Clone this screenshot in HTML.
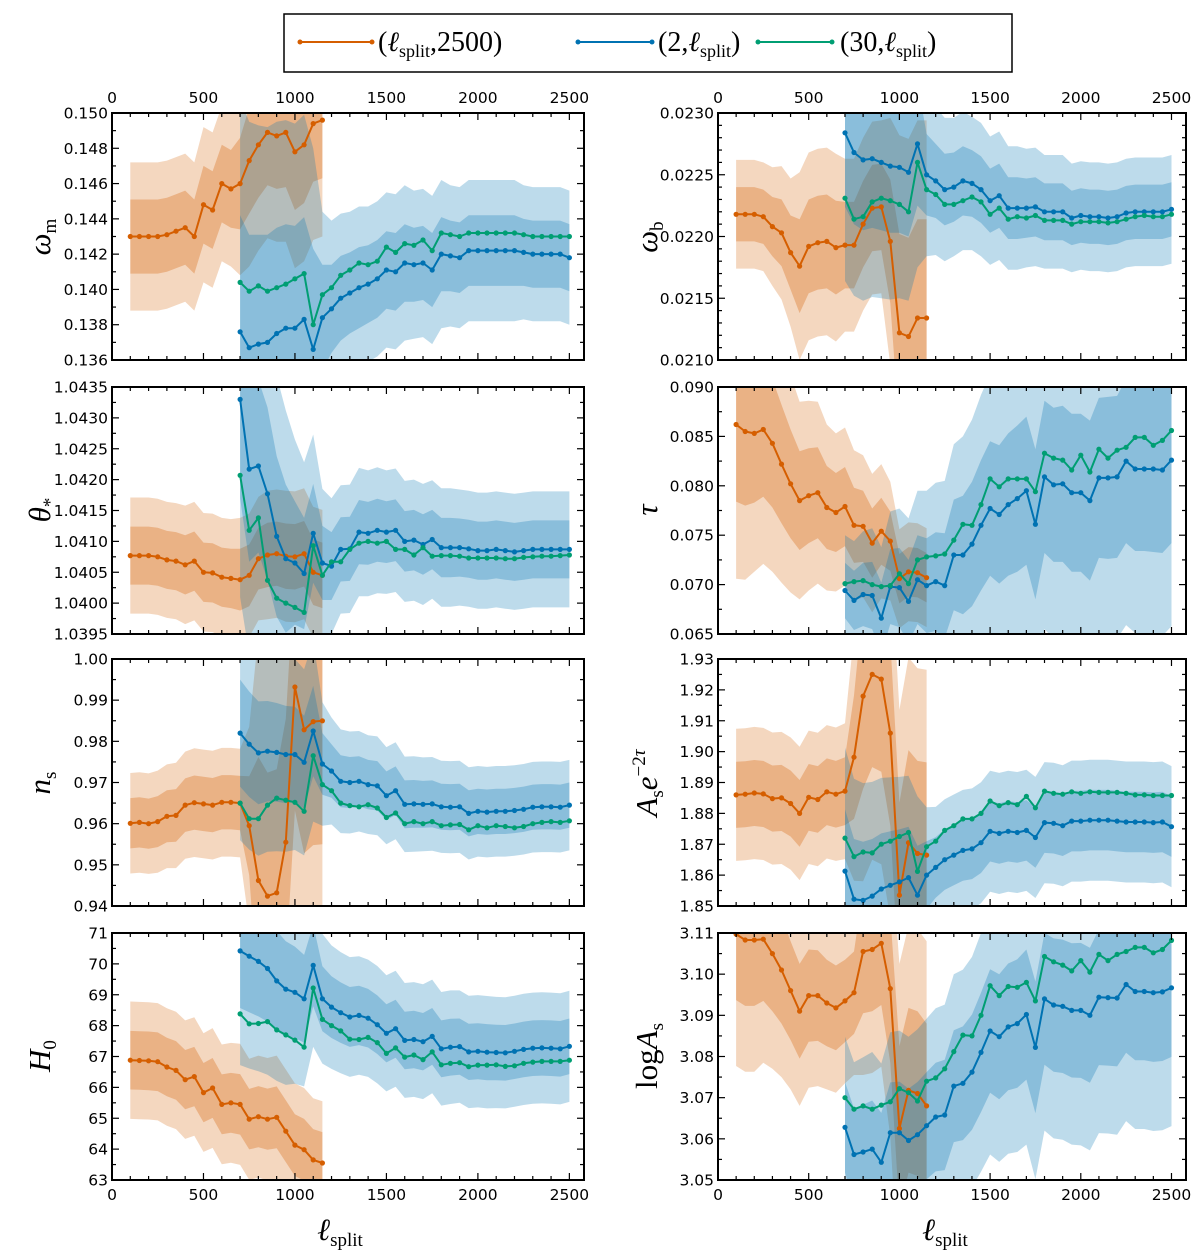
<!DOCTYPE html>
<html><head><meta charset="utf-8"><title>Parameter shifts vs l_split</title>
<style>
html,body{margin:0;padding:0;background:#fff;}
svg{display:block;}
</style></head>
<body>
<svg id="chart" width="1200" height="1259" viewBox="0 0 1200 1259" xmlns="http://www.w3.org/2000/svg" font-family="'DejaVu Sans', sans-serif">
<g>
  <rect x="284" y="14" width="728" height="58" fill="#fff" stroke="#000" stroke-width="1.5"/>
  <g>
    <line x1="300" y1="42" x2="372" y2="42" stroke="#d55e00" stroke-width="2"/>
    <circle cx="300" cy="42" r="2.5" fill="#d55e00"/><circle cx="372" cy="42" r="2.5" fill="#d55e00"/>
    <text x="378" y="51" font-family="'Liberation Serif', serif" font-size="28">(<tspan font-style="italic">ℓ</tspan><tspan font-size="18" dy="6">split</tspan><tspan dy="-6">,2500)</tspan></text>
  </g>
  <g>
    <line x1="578" y1="42" x2="652" y2="42" stroke="#0072b2" stroke-width="2"/>
    <circle cx="578" cy="42" r="2.5" fill="#0072b2"/><circle cx="652" cy="42" r="2.5" fill="#0072b2"/>
    <text x="658" y="51" font-family="'Liberation Serif', serif" font-size="28">(2,<tspan font-style="italic">ℓ</tspan><tspan font-size="18" dy="6">split</tspan><tspan dy="-6">)</tspan></text>
  </g>
  <g>
    <line x1="758" y1="42" x2="832" y2="42" stroke="#009e73" stroke-width="2"/>
    <circle cx="758" cy="42" r="2.5" fill="#009e73"/><circle cx="832" cy="42" r="2.5" fill="#009e73"/>
    <text x="840" y="51" font-family="'Liberation Serif', serif" font-size="28">(30,<tspan font-style="italic">ℓ</tspan><tspan font-size="18" dy="6">split</tspan><tspan dy="-6">)</tspan></text>
  </g>
</g>
<g font-family="'Liberation Serif', serif">
  <text transform="translate(50,237) rotate(-90)" text-anchor="middle" font-size="31"><tspan font-style="italic">ω</tspan><tspan font-size="19" dy="6">m</tspan></text>
  <text transform="translate(50,510) rotate(-90)" text-anchor="middle" font-size="31"><tspan font-style="italic">θ</tspan><tspan font-size="19" dy="6">*</tspan></text>
  <text transform="translate(50,783) rotate(-90)" text-anchor="middle" font-size="31"><tspan font-style="italic">n</tspan><tspan font-size="19" dy="6">s</tspan></text>
  <text transform="translate(50,1056) rotate(-90)" text-anchor="middle" font-size="31"><tspan font-style="italic">H</tspan><tspan font-size="19" dy="6">0</tspan></text>
  <text transform="translate(657,237) rotate(-90)" text-anchor="middle" font-size="31"><tspan font-style="italic">ω</tspan><tspan font-size="19" dy="6">b</tspan></text>
  <text transform="translate(657,510) rotate(-90)" text-anchor="middle" font-size="31"><tspan font-style="italic">τ</tspan></text>
  <text transform="translate(657,783) rotate(-90)" text-anchor="middle" font-size="31"><tspan font-style="italic">A</tspan><tspan font-size="19" dy="6">s</tspan><tspan font-style="italic" dy="-6">e</tspan><tspan font-size="19" dy="-12">−2</tspan><tspan font-size="19" font-style="italic">τ</tspan></text>
  <text transform="translate(657,1056) rotate(-90)" text-anchor="middle" font-size="31">log<tspan font-style="italic">A</tspan><tspan font-size="19" dy="6">s</tspan></text>
  <text x="340" y="1240" text-anchor="middle" font-size="31"><tspan font-style="italic">ℓ</tspan><tspan font-size="19" dy="6">split</tspan></text>
  <text x="945" y="1240" text-anchor="middle" font-size="31"><tspan font-style="italic">ℓ</tspan><tspan font-size="19" dy="6">split</tspan></text>
</g>
<g id="panels"></g>
</svg>
<script>
// ---- shared x categories ----
const xOrange = [100,150,200,250,300,350,400,450,500,550,600,650,700,750,800,850,900,950,1000,1050,1100,1150];
const xBlue = [700,750,800,850,900,950,1000,1050,1100,1150,1200,1250,1300,1350,1400,1450,1500,1550,1600,1650,1700,1750,1800,1850,1900,1950,2000,2050,2100,2150,2200,2250,2300,2350,2400,2450,2500];
const xTicks = [0,500,1000,1500,2000,2500];
const xTickLabels = ["0","500","1000","1500","2000","2500"];

// ---- omega_m ----
const wmOrange = [0.1430,0.1430,0.1430,0.1430,0.1431,0.1433,0.1435,0.1430,0.1448,0.1445,0.1460,0.1457,0.1460,0.1473,0.1482,0.1489,0.1487,0.1489,0.1478,0.1482,0.1494,0.1496];
const wmOrangeSig = [0.0021,0.0021,0.0021,0.0021,0.0021,0.0021,0.0021,0.0021,0.0022,0.0022,0.0022,0.0022,0.0026,0.0030,0.0030,0.0030,0.0030,0.0031,0.0033,0.0033,0.0033,0.0033];
const wmBlue = [0.1376,0.1367,0.1369,0.1370,0.1375,0.1378,0.1378,0.1383,0.1366,0.1384,0.1389,0.1395,0.1398,0.1401,0.1403,0.1406,0.1411,0.1410,0.1415,0.1414,0.1415,0.1411,0.1420,0.1419,0.1418,0.1422,0.1422,0.1422,0.1422,0.1422,0.1422,0.1421,0.1420,0.1420,0.1420,0.1420,0.1418];
const wmGreen = [0.1404,0.1399,0.1402,0.1399,0.1401,0.1403,0.1406,0.1409,0.1380,0.1397,0.1401,0.1408,0.1411,0.1415,0.1414,0.1416,0.1424,0.1421,0.1426,0.1425,0.1428,0.1422,0.1432,0.1431,0.1430,0.1432,0.1432,0.1432,0.1432,0.1432,0.1432,0.1431,0.1430,0.1430,0.1430,0.1430,0.1430];
const wmBlueSig = [0.0066,0.0064,0.0062,0.0061,0.0060,0.0059,0.0058,0.0058,0.0057,0.0030,0.0025,0.0024,0.0023,0.0023,0.0022,0.0022,0.0022,0.0022,0.0022,0.0021,0.0021,0.0021,0.0021,0.0020,0.0020,0.0020,0.0020,0.0020,0.0020,0.0020,0.0020,0.0019,0.0019,0.0019,0.0019,0.0019,0.0019];
const wmTicks = [0.136,0.138,0.140,0.142,0.144,0.146,0.148,0.150];
const wmTickLabels = ["0.136","0.138","0.140","0.142","0.144","0.146","0.148","0.150"];

// ---- theta_* ----
const thOrange = [1.04077,1.04077,1.04077,1.04075,1.04070,1.04068,1.04062,1.04068,1.04050,1.04049,1.04042,1.04040,1.04038,1.04045,1.04072,1.04078,1.04080,1.04076,1.04075,1.04080,1.04050,1.04045];
const thOrangeSig = [0.00047,0.00047,0.00047,0.00047,0.00047,0.00047,0.00048,0.00048,0.00048,0.00048,0.00048,0.00048,0.00050,0.00050,0.00050,0.00052,0.00052,0.00053,0.00053,0.00053,0.00053,0.00053];
const thBlue = [1.04330,1.04217,1.04222,1.04177,1.04108,1.04072,1.04065,1.04048,1.04113,1.04065,1.04060,1.04087,1.04088,1.04115,1.04113,1.04118,1.04115,1.04118,1.04100,1.04102,1.04095,1.04103,1.04090,1.04090,1.04090,1.04088,1.04085,1.04085,1.04087,1.04085,1.04083,1.04085,1.04087,1.04087,1.04087,1.04087,1.04087];
const thGreen = [1.04207,1.04118,1.04138,1.04037,1.04008,1.04000,1.03993,1.03985,1.04093,1.04045,1.04067,1.04067,1.04087,1.04097,1.04100,1.04097,1.04100,1.04087,1.04087,1.04078,1.04090,1.04076,1.04077,1.04077,1.04076,1.04073,1.04073,1.04073,1.04073,1.04072,1.04072,1.04074,1.04075,1.04076,1.04076,1.04077,1.04078];
const thBlueSig = [0.0016,0.0015,0.0014,0.0014,0.0013,0.0012,0.0010,0.0009,0.0008,0.00060,0.00055,0.00052,0.00052,0.00052,0.00051,0.00051,0.00050,0.00050,0.00049,0.00049,0.00049,0.00048,0.00048,0.00048,0.00047,0.00047,0.00047,0.00047,0.00047,0.00047,0.00047,0.00047,0.00047,0.00047,0.00047,0.00047,0.00047];
const thTicks = [1.0395,1.0400,1.0405,1.0410,1.0415,1.0420,1.0425,1.0430,1.0435];
const thTickLabels = ["1.0395","1.0400","1.0405","1.0410","1.0415","1.0420","1.0425","1.0430","1.0435"];

// ---- n_s ----
const nsOrange = [0.9601,0.9603,0.9600,0.9605,0.9618,0.9620,0.9645,0.9651,0.9648,0.9645,0.9652,0.9652,0.9650,0.9595,0.9462,0.9424,0.9432,0.9555,0.9932,0.9828,0.9848,0.9850];
const nsOrangeSig = [0.0061,0.0061,0.0061,0.0062,0.0063,0.0064,0.0065,0.0066,0.0066,0.0066,0.0066,0.0066,0.0066,0.0120,0.0300,0.0300,0.0300,0.0300,0.0300,0.0300,0.0300,0.0300];
const nsBlue = [0.9820,0.9793,0.9772,0.9776,0.9773,0.9768,0.9768,0.9749,0.9825,0.9745,0.9728,0.9703,0.9700,0.9703,0.9695,0.9692,0.9668,0.9680,0.9647,0.9648,0.9647,0.9648,0.9641,0.9640,0.9641,0.9625,0.9630,0.9628,0.9630,0.9630,0.9632,0.9635,0.9640,0.9641,0.9641,0.9640,0.9645];
const nsGreen = [0.9650,0.9612,0.9612,0.9645,0.9662,0.9657,0.9652,0.9630,0.9765,0.9695,0.9680,0.9650,0.9644,0.9641,0.9646,0.9638,0.9615,0.9626,0.9600,0.9605,0.9600,0.9605,0.9595,0.9597,0.9598,0.9585,0.9595,0.9590,0.9595,0.9593,0.9590,0.9593,0.9600,0.9603,0.9605,0.9603,0.9607];
const nsBlueSig = [0.0130,0.0128,0.0125,0.0122,0.0120,0.0118,0.0116,0.0113,0.0110,0.0075,0.0065,0.0063,0.0062,0.0061,0.0060,0.0060,0.0059,0.0059,0.0058,0.0058,0.0057,0.0057,0.0056,0.0056,0.0056,0.0056,0.0055,0.0055,0.0055,0.0055,0.0055,0.0055,0.0055,0.0055,0.0055,0.0055,0.0055];
const nsTicks = [0.94,0.95,0.96,0.97,0.98,0.99,1.00];
const nsTickLabels = ["0.94","0.95","0.96","0.97","0.98","0.99","1.00"];

// ---- H0 ----
const h0Orange = [66.88,66.87,66.86,66.83,66.66,66.55,66.25,66.35,65.83,65.98,65.45,65.50,65.45,64.97,65.05,64.97,65.03,64.58,64.13,63.98,63.65,63.55];
const h0OrangeSig = [0.95,0.95,0.95,0.95,0.95,0.95,0.96,0.96,0.96,0.97,0.97,0.97,0.98,0.98,0.99,0.99,1.00,1.00,1.00,1.00,1.00,1.00];
const h0Blue = [70.42,70.25,70.08,69.85,69.45,69.18,69.08,68.87,69.95,68.87,68.60,68.42,68.28,68.33,68.24,68.03,67.75,67.90,67.52,67.55,67.48,67.65,67.25,67.30,67.32,67.15,67.17,67.14,67.13,67.12,67.17,67.23,67.27,67.28,67.27,67.25,67.33];
const h0Green = [68.38,68.06,68.07,68.13,67.86,67.70,67.53,67.30,69.22,68.20,68.00,67.83,67.56,67.55,67.62,67.45,67.10,67.28,66.98,67.05,66.90,67.15,66.73,66.78,66.80,66.67,66.72,66.72,66.73,66.68,66.70,66.78,66.82,66.84,66.84,66.84,66.88];
const h0BlueSig = [1.85,1.82,1.78,1.72,1.62,1.55,1.48,1.42,1.32,1.05,1.00,0.98,0.97,0.96,0.95,0.95,0.94,0.94,0.93,0.93,0.93,0.92,0.92,0.92,0.91,0.91,0.91,0.91,0.90,0.90,0.90,0.90,0.90,0.90,0.90,0.90,0.90];
const h0Ticks = [63,64,65,66,67,68,69,70,71];
const h0TickLabels = ["63","64","65","66","67","68","69","70","71"];

// ---- omega_b ----
const wbOrange = [0.02218,0.02218,0.02218,0.02216,0.02208,0.02203,0.02187,0.02176,0.02192,0.02195,0.02196,0.02191,0.02193,0.02193,0.02210,0.02223,0.02224,0.02196,0.02122,0.02119,0.02134,0.02134];
const wbOrangeSig = [0.00022,0.00022,0.00022,0.00022,0.00024,0.00027,0.00030,0.00038,0.00038,0.00038,0.00038,0.00038,0.00035,0.00035,0.00035,0.00035,0.00035,0.00050,0.00080,0.00080,0.00080,0.00080];
const wbBlue = [0.02284,0.02268,0.02262,0.02263,0.02260,0.02257,0.02256,0.02252,0.02275,0.02250,0.02245,0.02238,0.02240,0.02245,0.02243,0.02238,0.02229,0.02233,0.02223,0.02223,0.02223,0.02224,0.02220,0.02220,0.02220,0.02215,0.02217,0.02216,0.02216,0.02215,0.02216,0.02219,0.02220,0.02220,0.02220,0.02220,0.02222];
const wbGreen = [0.02231,0.02214,0.02216,0.02228,0.02231,0.02229,0.02226,0.02220,0.02260,0.02238,0.02234,0.02226,0.02226,0.02229,0.02232,0.02228,0.02218,0.02223,0.02214,0.02216,0.02215,0.02217,0.02213,0.02213,0.02213,0.02210,0.02212,0.02212,0.02212,0.02211,0.02212,0.02214,0.02216,0.02217,0.02216,0.02216,0.02218];
const wbBlueSig = [0.00060,0.00058,0.00057,0.00056,0.00055,0.00054,0.00053,0.00052,0.00050,0.00033,0.00030,0.00029,0.00028,0.00028,0.00027,0.00027,0.00026,0.00026,0.00025,0.00025,0.00024,0.00024,0.00023,0.00023,0.00023,0.00022,0.00022,0.00022,0.00022,0.00022,0.00022,0.00022,0.00022,0.00022,0.00022,0.00022,0.00022];
const wbTicks = [0.0210,0.0215,0.0220,0.0225,0.0230];
const wbTickLabels = ["0.0210","0.0215","0.0220","0.0225","0.0230"];

// ---- tau ----
const tauOrange = [0.0862,0.0855,0.0853,0.0857,0.0843,0.0822,0.0802,0.0785,0.0790,0.0793,0.0778,0.0773,0.0779,0.0760,0.0759,0.0742,0.0754,0.0744,0.0706,0.0713,0.0712,0.0707];
const tauOrangeSig = [0.0078,0.0075,0.0070,0.0068,0.0065,0.0060,0.0055,0.0050,0.0048,0.0046,0.0042,0.0040,0.0040,0.0038,0.0036,0.0035,0.0034,0.0030,0.0025,0.0025,0.0025,0.0025];
const tauBlue = [0.0694,0.0684,0.0690,0.0689,0.0666,0.0698,0.0697,0.0683,0.0705,0.0699,0.0703,0.0699,0.0730,0.0730,0.0741,0.0760,0.0777,0.0771,0.0781,0.0787,0.0795,0.0761,0.0809,0.0801,0.0802,0.0793,0.0793,0.0785,0.0808,0.0808,0.0809,0.0825,0.0817,0.0817,0.0817,0.0816,0.0826];
const tauGreen = [0.0701,0.0703,0.0704,0.0700,0.0698,0.0699,0.0711,0.0701,0.0725,0.0728,0.0729,0.0731,0.0745,0.0761,0.0760,0.0781,0.0807,0.0799,0.0807,0.0807,0.0807,0.0794,0.0833,0.0828,0.0826,0.0816,0.0831,0.0814,0.0837,0.0828,0.0836,0.0839,0.0849,0.0849,0.0841,0.0846,0.0856];
const tauBlueSig = [0.0028,0.0030,0.0032,0.0034,0.0036,0.0038,0.0040,0.0042,0.0045,0.0048,0.0050,0.0053,0.0056,0.0060,0.0063,0.0066,0.0068,0.0070,0.0072,0.0074,0.0075,0.0076,0.0077,0.0078,0.0079,0.0080,0.0080,0.0081,0.0081,0.0082,0.0082,0.0083,0.0083,0.0083,0.0084,0.0084,0.0084];
const tauTicks = [0.065,0.070,0.075,0.080,0.085,0.090];
const tauTickLabels = ["0.065","0.070","0.075","0.080","0.085","0.090"];

// ---- A_s e^-2tau ----
const aeOrange = [1.8860,1.8862,1.8866,1.8863,1.8848,1.8850,1.8832,1.8800,1.8852,1.8845,1.8870,1.8862,1.8872,1.8982,1.9180,1.9250,1.9235,1.9060,1.8535,1.8705,1.8670,1.8665];
const aeOrangeSig = [0.0107,0.0107,0.0107,0.0107,0.0107,0.0107,0.0107,0.0108,0.0108,0.0108,0.0108,0.0108,0.0110,0.0200,0.0300,0.0300,0.0300,0.0300,0.0300,0.0300,0.0300,0.0300];
const aeBlue = [1.8613,1.8522,1.8518,1.8532,1.8555,1.8567,1.8578,1.8592,1.8535,1.8600,1.8625,1.8650,1.8665,1.8680,1.8685,1.8705,1.8742,1.8735,1.8742,1.8738,1.8745,1.8722,1.8770,1.8768,1.8760,1.8775,1.8775,1.8778,1.8778,1.8778,1.8775,1.8772,1.8772,1.8772,1.8770,1.8772,1.8757];
const aeGreen = [1.8720,1.8660,1.8675,1.8672,1.8700,1.8710,1.8725,1.8738,1.8612,1.8692,1.8710,1.8745,1.8760,1.8782,1.8782,1.8800,1.8840,1.8825,1.8835,1.8828,1.8855,1.8818,1.8872,1.8865,1.8862,1.8870,1.8865,1.8870,1.8868,1.8868,1.8868,1.8865,1.8860,1.8860,1.8858,1.8858,1.8858];
const aeBlueSig = [0.0200,0.0195,0.0190,0.0185,0.0180,0.0175,0.0170,0.0165,0.0160,0.0110,0.0098,0.0098,0.0098,0.0098,0.0098,0.0098,0.0098,0.0098,0.0098,0.0098,0.0098,0.0098,0.0098,0.0098,0.0098,0.0098,0.0098,0.0098,0.0098,0.0098,0.0098,0.0098,0.0098,0.0098,0.0098,0.0098,0.0098];
const aeTicks = [1.85,1.86,1.87,1.88,1.89,1.90,1.91,1.92,1.93];
const aeTickLabels = ["1.85","1.86","1.87","1.88","1.89","1.90","1.91","1.92","1.93"];

// ---- log A_s ----
const laOrange = [3.1097,3.1083,3.1083,3.1085,3.1050,3.1010,3.0960,3.0910,3.0948,3.0948,3.0930,3.0918,3.0935,3.0955,3.1055,3.1060,3.1075,3.0965,3.0625,3.0718,3.0710,3.0680];
const laOrangeSig = [0.0160,0.0160,0.0160,0.0150,0.0140,0.0130,0.0120,0.0115,0.0112,0.0110,0.0105,0.0103,0.0100,0.0100,0.0150,0.0150,0.0150,0.0180,0.0200,0.0200,0.0200,0.0200];
const laBlue = [3.0628,3.0562,3.0568,3.0575,3.0543,3.0615,3.0615,3.0596,3.0610,3.0632,3.0653,3.0658,3.0728,3.0735,3.0762,3.0810,3.0862,3.0848,3.0872,3.0880,3.0902,3.0822,3.0940,3.0925,3.0922,3.0912,3.0912,3.0900,3.0944,3.0943,3.0942,3.0975,3.0958,3.0958,3.0955,3.0957,3.0967];
const laGreen = [3.0700,3.0672,3.0680,3.0672,3.0682,3.0690,3.0722,3.0712,3.0692,3.0740,3.0748,3.0770,3.0812,3.0852,3.0850,3.0900,3.0972,3.0948,3.0970,3.0968,3.0980,3.0935,3.1043,3.1030,3.1022,3.1008,3.1033,3.1005,3.1048,3.1033,3.1048,3.1055,3.1065,3.1065,3.1052,3.1060,3.1082];
const laBlueSig = [0.0110,0.0112,0.0115,0.0118,0.0120,0.0122,0.0124,0.0126,0.0128,0.0130,0.0132,0.0134,0.0136,0.0138,0.0140,0.0145,0.0150,0.0152,0.0154,0.0156,0.0158,0.0160,0.0160,0.0162,0.0162,0.0163,0.0164,0.0164,0.0165,0.0165,0.0166,0.0166,0.0167,0.0167,0.0168,0.0168,0.0168];
const laTicks = [3.05,3.06,3.07,3.08,3.09,3.10,3.11];
const laTickLabels = ["3.05","3.06","3.07","3.08","3.09","3.10","3.11"];

const NS = "http://www.w3.org/2000/svg";
const X_MAX = 2580;
const ORANGE = "#d55e00", BLUE = "#0072b2", GREEN = "#009e73";

function mk(tag, attrs, parent) {
  const e = document.createElementNS(NS, tag);
  for (const k in attrs) e.setAttribute(k, attrs[k]);
  if (parent) parent.appendChild(e);
  return e;
}

const panelDefs = [
  {id:"omega-m", L:112, T:113, W:472, ymin:0.136, ymax:0.150, minor:0.001, ticks:wmTicks, labels:wmTickLabels, o:wmOrange, os:wmOrangeSig, b:wmBlue, bs:wmBlueSig, g:wmGreen, top:true, bottom:false},
  {id:"theta", L:112, T:387, W:472, ymin:1.0395, ymax:1.0435, minor:0.00025, ticks:thTicks, labels:thTickLabels, o:thOrange, os:thOrangeSig, b:thBlue, bs:thBlueSig, g:thGreen, top:false, bottom:false},
  {id:"ns", L:112, T:659, W:472, ymin:0.94, ymax:1.00, minor:0.005, ticks:nsTicks, labels:nsTickLabels, o:nsOrange, os:nsOrangeSig, b:nsBlue, bs:nsBlueSig, g:nsGreen, top:false, bottom:false},
  {id:"h0", L:112, T:933, W:472, ymin:63, ymax:71, minor:0.5, ticks:h0Ticks, labels:h0TickLabels, o:h0Orange, os:h0OrangeSig, b:h0Blue, bs:h0BlueSig, g:h0Green, top:false, bottom:true},
  {id:"omega-b", L:718, T:113, W:468, ymin:0.0210, ymax:0.0230, minor:0.0001, ticks:wbTicks, labels:wbTickLabels, o:wbOrange, os:wbOrangeSig, b:wbBlue, bs:wbBlueSig, g:wbGreen, top:true, bottom:false},
  {id:"tau", L:718, T:387, W:468, ymin:0.065, ymax:0.090, minor:0.0025, ticks:tauTicks, labels:tauTickLabels, o:tauOrange, os:tauOrangeSig, b:tauBlue, bs:tauBlueSig, g:tauGreen, top:false, bottom:false},
  {id:"as-exp", L:718, T:659, W:468, ymin:1.85, ymax:1.93, minor:0.005, ticks:aeTicks, labels:aeTickLabels, o:aeOrange, os:aeOrangeSig, b:aeBlue, bs:aeBlueSig, g:aeGreen, top:false, bottom:false},
  {id:"log-as", L:718, T:933, W:468, ymin:3.05, ymax:3.11, minor:0.005, ticks:laTicks, labels:laTickLabels, o:laOrange, os:laOrangeSig, b:laBlue, bs:laBlueSig, g:laGreen, top:false, bottom:true}
];

const root = document.getElementById("panels");
const H = 247;

panelDefs.forEach(function(p) {
  const g = mk("g", {}, root);
  
  
  const xs = function(v) { return p.L + v / X_MAX * p.W; };
  const ys = function(v) { return p.T + H - (v - p.ymin) / (p.ymax - p.ymin) * H; };

  const defs = mk("defs", {}, g);
  const cp = mk("clipPath", {id: "clip-" + p.id}, defs);
  mk("rect", {x: p.L, y: p.T, width: p.W, height: H}, cp);
  const plot = mk("g", {"clip-path": "url(#clip-" + p.id + ")"}, g);

  function band(xarr, c, s, k, color, op, name) {
    let up = [], lo = [];
    for (let i = 0; i < xarr.length; i++) {
      up.push(xs(xarr[i]).toFixed(1) + "," + ys(c[i] + k * s[i]).toFixed(1));
      lo.unshift(xs(xarr[i]).toFixed(1) + "," + ys(c[i] - k * s[i]).toFixed(1));
    }
    const poly = mk("polygon", {points: up.concat(lo).join(" "), fill: color, "fill-opacity": op, stroke: "none"}, plot);
    
    
  }
  band(xOrange, p.o, p.os, 2, ORANGE, 0.25, "band-2sigma-high-ell");
  band(xOrange, p.o, p.os, 1, ORANGE, 0.3, "band-1sigma-high-ell");
  band(xBlue, p.b, p.bs, 2, BLUE, 0.26, "band-2sigma-low-ell");
  band(xBlue, p.b, p.bs, 1, BLUE, 0.27, "band-1sigma-low-ell");

  function series(xarr, vals, color, name) {
    const sg = mk("g", {}, plot);
    
    
    const pts = xarr.map(function(x, i) { return xs(x).toFixed(1) + "," + ys(vals[i]).toFixed(1); });
    mk("polyline", {points: pts.join(" "), fill: "none", stroke: color, "stroke-width": 2, "stroke-linejoin": "round"}, sg);
    for (let i = 0; i < xarr.length; i++) {
      const c = mk("circle", {cx: xs(xarr[i]).toFixed(1), cy: ys(vals[i]).toFixed(1), r: 2.6, fill: color}, sg);
      
      
    }
  }
  series(xOrange, p.o, ORANGE, "series-high-ell");
  series(xBlue, p.b, BLUE, "series-low-ell-2");
  series(xBlue, p.g, GREEN, "series-low-ell-30");

  const fr = mk("rect", {x: p.L, y: p.T, width: p.W, height: H, fill: "none", stroke: "#000", "stroke-width": 2}, g);
  
  

  const tk = mk("g", {stroke: "#000", "stroke-width": 1.2}, g);
  
  
  for (let v = 100; v <= X_MAX; v += 100) {
    const major = (v % 500 === 0);
    const len = major ? 7 : 4;
    const x = xs(v);
    mk("line", {x1: x, y1: p.T + H, x2: x, y2: p.T + H - len}, tk);
    mk("line", {x1: x, y1: p.T, x2: x, y2: p.T + len}, tk);
  }
  const nMinor = Math.round((p.ymax - p.ymin) / p.minor);
  for (let j = 1; j < nMinor; j++) {
    const v = p.ymin + j * p.minor;
    const y = ys(v);
    const isMajor = p.ticks.some(function(t) { return Math.abs(t - v) < p.minor * 0.01; });
    const len = isMajor ? 7 : 4;
    mk("line", {x1: p.L, y1: y, x2: p.L + len, y2: y}, tk);
    mk("line", {x1: p.L + p.W, y1: y, x2: p.L + p.W - len, y2: y}, tk);
  }
  for (let j = 0; j < p.ticks.length; j++) {
    const t = mk("text", {x: p.L - 4, y: ys(p.ticks[j]) + 5.5, "text-anchor": "end", "font-size": 15.5, fill: "#000"}, g);
    
    
    t.textContent = p.labels[j];
  }
  if (p.top || p.bottom) {
    for (let j = 0; j < xTicks.length; j++) {
      const yy = p.top ? p.T - 10 : p.T + H + 20;
      const t = mk("text", {x: xs(xTicks[j]), y: yy, "text-anchor": "middle", "font-size": 15.5, fill: "#000"}, g);
      
      
      t.textContent = xTickLabels[j];
    }
  }
});
</script>
</body></html>
